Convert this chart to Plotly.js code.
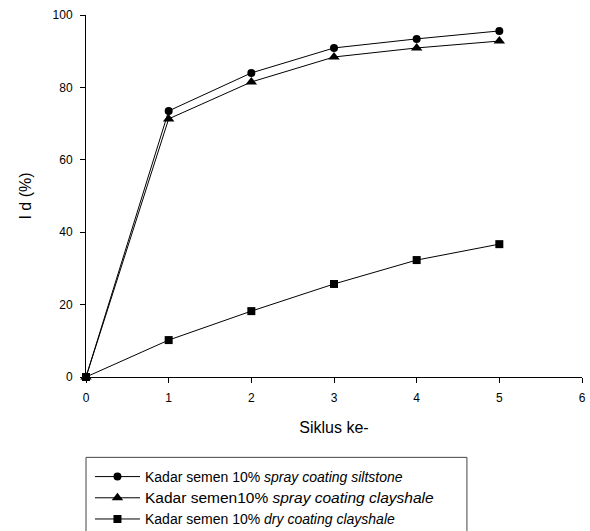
<!DOCTYPE html>
<html><head><meta charset="utf-8">
<script src="https://cdn.plot.ly/plotly-3.0.1.min.js"></script>
<style>body{margin:0;background:#fff}#chart{width:590px;height:531px}</style>
</head><body><div id="chart"></div>
<script>
const cycles = [0, 1, 2, 3, 4, 5];
const siltstoneSpray = [0, 73.5, 84, 90.9, 93.4, 95.6];
const clayshaleSpray = [0, 71.3, 81.5, 88.4, 90.9, 92.8];
const clayshaleDry = [0, 10.2, 18.2, 25.7, 32.3, 36.7];
const names = [
  'Kadar semen 10% <i>spray coating siltstone</i>',
  '<span style="font-size:15.5px">Kadar semen10% <i>spray coating clayshale</i></span>',
  'Kadar semen 10% <i>dry coating clayshale</i>'
];
const xTicks = [0,1,2,3,4,5,6];
const yTicks = [0,20,40,60,80,100];

function tr(y, name, sym, size){
  return {x: cycles, y: y, name: name, type:'scatter', mode:'lines+markers',
    line:{color:'#000', width:1}, marker:{symbol:sym, size:size, color:'#000'}, cliponaxis:false};
}
const data = [
  tr(siltstoneSpray, names[0], 'circle', 8),
  tr(clayshaleSpray, names[1], 'triangle-up', 10),
  tr(clayshaleDry, names[2], 'square', 8)
];
const F = 'Liberation Sans, Arial';
const ax = {showgrid:false, zeroline:false, showline:true, linecolor:'#000', linewidth:1,
  ticks:'outside', ticklen:5, tickcolor:'#000', ticklabelstandoff:5,
  tickfont:{family:F, size:12, color:'#000'}};
const layout = {
  width:590, height:531, paper_bgcolor:'#fff', plot_bgcolor:'#fff',
  margin:{l:86, r:8, t:15, b:154, autoexpand:false},
  showlegend:true,
  xaxis: Object.assign({}, ax, {range:[0,6], tickvals:xTicks, ticktext:xTicks.map(String),
    title:{text:'Siklus ke-', font:{family:F, size:16, color:'#000'}, standoff:17}}),
  yaxis: Object.assign({}, ax, {range:[0,100], tickvals:yTicks, ticktext:yTicks.map(String),
    title:{text:'I d (%)', font:{family:F, size:16, color:'#000'}, standoff:16}}),
  legend:{x:0.008, y:-0.232, xanchor:'left', yanchor:'top', borderwidth:0,
    bgcolor:'rgba(0,0,0,0)', font:{family:F, size:14, color:'#000'},
    tracegroupgap:0, itemwidth:45},
  shapes:[{type:'rect', xref:'paper', yref:'paper', x0:0, x1:0.768, y0:-0.222, y1:-0.6,
    line:{color:'#444', width:1}, fillcolor:'rgba(0,0,0,0)', layer:'below'}],
  font:{family:F}
};
Plotly.newPlot('chart', data, layout, {displayModeBar:false});
</script></body></html>
